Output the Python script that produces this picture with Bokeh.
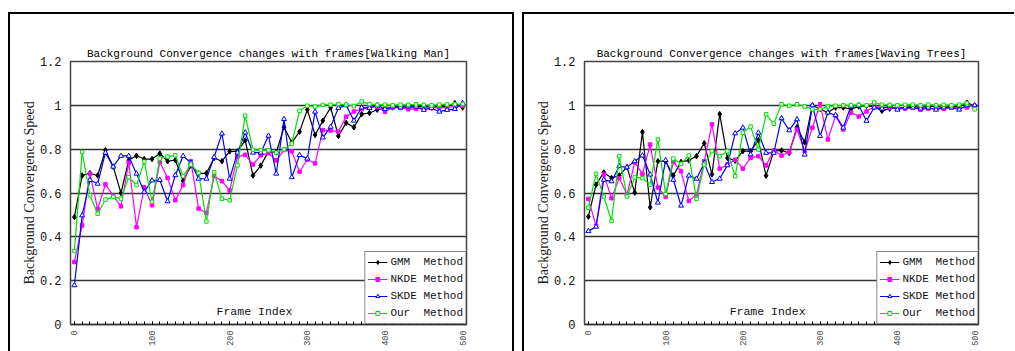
import math
from bokeh.plotting import figure
from bokeh.layouts import row
from bokeh.models import FixedTicker, Label, Legend, LegendItem
from bokeh.embed import file_html
from bokeh.resources import INLINE

frames = list(range(0, 501, 10))
x_tick_values = [0, 100, 200, 300, 400, 500]
y_tick_values = [0, 0.2, 0.4, 0.6, 0.8, 1.0, 1.2]
y_tick_labels = ["0", "0.2", "0.4", "0.6", "0.8", "1", "1.2"]
series_names = ["GMM\u00a0\u00a0Method", "NKDE\u00a0Method", "SKDE\u00a0Method", "Our\u00a0\u00a0Method"]
titles = ["Background Convergence changes with frames[Walking Man]",
          "Background Convergence changes with frames[Waving Trees]"]

# Walking Man
gmm_w = [0.49, 0.68, 0.69, 0.68, 0.795, 0.72, 0.60, 0.75, 0.77, 0.755,
         0.755, 0.78, 0.745, 0.75, 0.655, 0.725, 0.69, 0.69, 0.76, 0.745,
         0.79, 0.79, 0.84, 0.68, 0.725, 0.79, 0.785, 0.90, 0.83, 0.88,
         0.98, 0.865, 0.93, 0.99, 0.86, 0.92, 0.90, 0.96, 0.965, 0.98,
         0.985, 0.99, 0.995, 0.99, 0.995, 0.995, 0.99, 0.995, 0.995, 1.01, 0.99]
nkde_w = [0.285, 0.452, 0.688, 0.527, 0.639, 0.588, 0.539, 0.738, 0.444, 0.626,
          0.544, 0.741, 0.669, 0.567, 0.636, 0.745, 0.529, 0.509, 0.677, 0.654,
          0.611, 0.766, 0.774, 0.730, 0.772, 0.782, 0.749, 0.796, 0.79, 0.697,
          0.753, 0.735, 0.887, 0.885, 0.88, 0.948, 0.972, 0.983, 0.99, 0.994,
          0.971, 0.99, 0.988, 0.982, 0.985, 0.988, 0.988, 0.99, 0.99, 0.995, 0.998]
skde_w = [0.179, 0.498, 0.659, 0.642, 0.784, 0.72, 0.769, 0.769, 0.688, 0.605,
          0.657, 0.659, 0.562, 0.681, 0.769, 0.738, 0.665, 0.665, 0.764, 0.871,
          0.665, 0.784, 0.876, 0.784, 0.784, 0.861, 0.688, 0.937, 0.672, 0.773,
          0.757, 0.971, 0.853, 0.902, 0.988, 1.0, 0.93, 0.99, 0.988, 1.0,
          0.983, 0.994, 0.99, 0.995, 0.994, 0.979, 0.988, 0.971, 0.979, 0.983, 1.01]
our_w = [0.335, 0.787, 0.59, 0.505, 0.57, 0.582, 0.574, 0.672, 0.636, 0.743,
         0.56, 0.757, 0.766, 0.772, 0.677, 0.73, 0.692, 0.47, 0.695, 0.574,
         0.567, 0.726, 0.953, 0.797, 0.796, 0.795, 0.784, 0.799, 0.825, 0.975,
         0.998, 0.994, 1.002, 1.003, 1.006, 1.003, 0.997, 1.017, 1.006, 1.002,
         1.003, 1.0, 1.003, 1.002, 1.005, 1.002, 1.0, 1.003, 1.004, 1.005, 1.006]

# Waving Trees
gmm_t = [0.492, 0.638, 0.694, 0.668, 0.68, 0.718, 0.602, 0.878, 0.535, 0.745,
         0.745, 0.68, 0.742, 0.749, 0.768, 0.827, 0.685, 0.96, 0.76, 0.747,
         0.791, 0.791, 0.841, 0.679, 0.791, 0.794, 0.783, 0.9, 0.831, 1.0,
         0.982, 0.967, 0.99, 0.99, 0.983, 0.995, 0.998, 0.993, 0.975, 0.985,
         0.99, 0.99, 0.995, 0.99, 0.995, 0.995, 0.99, 0.995, 0.995, 1.012, 0.998]
nkde_t = [0.573, 0.45, 0.684, 0.576, 0.668, 0.592, 0.74, 0.687, 0.821, 0.625,
          0.584, 0.742, 0.699, 0.564, 0.592, 0.745, 0.913, 0.711, 0.73, 0.752,
          0.711, 0.76, 0.768, 0.726, 0.794, 0.771, 0.786, 0.89, 0.791, 0.898,
          1.005, 0.844, 0.952, 0.89, 0.967, 0.949, 0.972, 0.995, 0.99, 0.99,
          0.99, 0.985, 0.99, 0.98, 0.985, 0.985, 0.985, 0.99, 0.99, 0.99, 0.998]
skde_t = [0.426, 0.446, 0.66, 0.653, 0.722, 0.717, 0.745, 0.771, 0.684, 0.556,
          0.75, 0.66, 0.542, 0.679, 0.665, 0.737, 0.65, 0.665, 0.726, 0.872,
          0.898, 0.776, 0.875, 0.783, 0.783, 0.941, 0.886, 0.936, 0.775, 1.0,
          0.86, 0.967, 0.955, 0.898, 0.998, 1.0, 0.929, 0.99, 0.985, 0.998,
          0.98, 0.99, 0.99, 0.985, 0.99, 0.98, 0.99, 0.99, 0.98, 1.0, 1.0]
our_t = [0.533, 0.687, 0.584, 0.472, 0.768, 0.584, 0.671, 0.668, 0.638, 0.844,
         0.595, 0.757, 0.733, 0.771, 0.573, 0.73, 0.791, 0.768, 0.791, 0.676,
         0.875, 0.903, 0.798, 0.959, 0.916, 1.005, 0.998, 1.005, 0.995, 0.982,
         0.982, 0.995, 0.998, 1.0, 1.0, 1.002, 1.0, 1.013, 1.003, 1.002,
         1.0, 1.002, 1.003, 1.0, 1.003, 1.0, 1.002, 1.0, 1.003, 1.01, 0.982]

STYLES = [
    dict(color="#000000", marker="diamond", size=5.5, fill="#000000"),
    dict(color="#ff00ff", marker="square", size=3.5, fill="#ff00ff"),
    dict(color="#0000ff", marker="triangle", size=5, fill="white"),
    dict(color="#00e000", marker="square", size=3.5, fill="white"),
]

MONO = "Liberation Mono"


def build(title, series, width, height, min_right, min_bottom, border_css):
    p = figure(width=width, height=height, x_range=(-5, 505), y_range=(0, 1.2),
               output_backend="svg", toolbar_location=None,
               min_border_left=60, min_border_right=min_right,
               min_border_top=47, min_border_bottom=min_bottom,
               background_fill_color="white", border_fill_color="white",
               styles=border_css)
    p.title.text = title
    p.title.text_font = MONO
    p.title.text_font_size = "11px"
    p.title.text_font_style = "normal"
    p.title.text_color = "#000000"
    p.title.align = "center"
    p.title.standoff = 3
    p.outline_line_color = "#444444"
    p.outline_line_width = 1.5

    p.xgrid.visible = False
    p.ygrid.ticker = FixedTicker(ticks=y_tick_values)
    p.ygrid.grid_line_color = "#333333"
    p.ygrid.grid_line_width = 1.3

    p.yaxis.ticker = FixedTicker(ticks=y_tick_values)
    p.yaxis.major_label_overrides = {v: s for v, s in zip(y_tick_values, y_tick_labels)}
    p.yaxis.major_label_text_font = MONO
    p.yaxis.major_label_text_font_size = "12px"
    p.yaxis.major_label_text_color = "#111111"
    p.yaxis.major_label_standoff = 9
    p.yaxis.major_tick_in = 0
    p.yaxis.major_tick_out = 0
    p.yaxis.minor_tick_line_color = None
    p.yaxis.axis_line_color = "#444444"
    p.yaxis.axis_label = "Background Convergence Speed"
    p.yaxis.axis_label_text_font = "Liberation Serif"
    p.yaxis.axis_label_text_font_size = "14px"
    p.yaxis.axis_label_text_font_style = "normal"
    p.yaxis.axis_label_text_color = "#222222"
    p.yaxis.axis_label_standoff = 0

    p.xaxis.ticker = FixedTicker(ticks=x_tick_values, minor_ticks=frames)
    p.xaxis.major_label_orientation = math.pi / 2
    p.xaxis.major_label_text_font = MONO
    p.xaxis.major_label_text_font_size = "8.5px"
    p.xaxis.major_label_standoff = 6
    p.xaxis.major_tick_in = 3
    p.xaxis.major_tick_out = 0
    p.xaxis.minor_tick_in = 3
    p.xaxis.minor_tick_out = 0
    p.xaxis.axis_line_color = "#333333"
    p.xaxis.axis_line_width = 1.5

    items = []
    for vals, st, name in zip(series, STYLES, series_names):
        r1 = p.line(frames, vals, line_color=st["color"], line_width=1.2)
        r2 = p.scatter(frames, vals, marker=st["marker"], size=st["size"],
                       line_color=st["color"], fill_color=st["fill"], line_width=1)
        items.append(LegendItem(label=name, renderers=[r1, r2]))

    legend = Legend(items=items, location="bottom_right", margin=0, padding=2,
                    spacing=1, glyph_width=20, glyph_height=10, label_height=16,
                    label_standoff=3, label_text_font=MONO, label_text_font_size="11px",
                    label_text_color="#111111",
                    border_line_color="#111111", border_line_width=1.5,
                    background_fill_color="white", background_fill_alpha=1.0)
    p.add_layout(legend, "center")

    p.add_layout(Label(x=232, y=0.06, text="Frame Index", text_font=MONO,
                       text_font_size="11.5px", text_align="center",
                       text_baseline="middle", text_color="#111111"))
    return p


# left panel: outer frame x 8..514, y 12..bottom ; plot frame x 70..462, y 61..322
p1 = build(titles[0], [gmm_w, nkde_w, skde_w, our_w], 506, 339, 50, 29,
           {"border-top": "2px solid black", "border-left": "2px solid black",
            "border-right": "2px solid black", "box-sizing": "border-box",
            "margin-top": "12px", "margin-left": "8px"})
# right panel: outer frame x 522..beyond, plot frame x 584..976
p2 = build(titles[1], [gmm_t, nkde_t, skde_t, our_t], 492, 339, 38, 29,
           {"border-top": "2px solid black", "border-left": "2px solid black",
            "box-sizing": "border-box", "margin-top": "12px", "margin-left": "8px"})

layout = row(p1, p2)
open("out.html", "w").write(file_html(layout, INLINE))
